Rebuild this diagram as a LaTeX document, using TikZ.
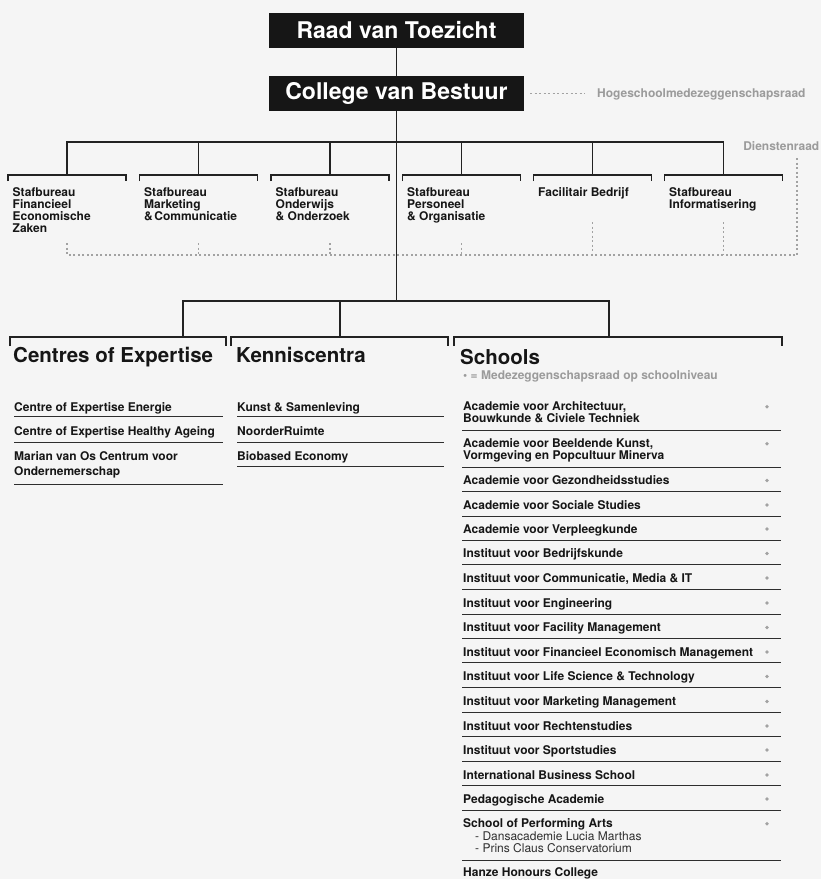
\documentclass[tikz,border=0pt]{standalone}
\usepackage{fontspec}
\setmainfont{TeX Gyre Heros}
\usetikzlibrary{calc}
\definecolor{bg}{HTML}{F5F5F5}
\definecolor{boxblack}{HTML}{161616}
\definecolor{txt}{HTML}{161616}
\definecolor{greytxt}{HTML}{9B9B9B}
\definecolor{dotgrey}{HTML}{A2A2A2}
\definecolor{treec}{HTML}{222222}
\definecolor{linec}{HTML}{2E2E2E}
\begin{document}
\begin{tikzpicture}[x=1pt,y=-1pt,
  topbox/.style={fill=boxblack, text=white, font=\fontsize{23}{27}\selectfont\bfseries, minimum width=255pt, minimum height=35pt, inner sep=0pt},
  tree/.style={draw=treec, line width=1.2pt},
  bracket/.style={draw=treec, line width=1.1pt},
  dotc/.style={draw=dotgrey, line width=1.1pt, dash pattern=on 2pt off 2.5pt},
  stafftext/.style={font=\fontsize{12}{12.3}\selectfont\bfseries, align=left, anchor=base west, inner sep=0pt, text=txt},
  greylabel/.style={font=\fontsize{12}{14}\selectfont\bfseries, inner sep=0pt, text=greytxt},
  header/.style={font=\fontsize{20.5}{24}\selectfont\bfseries, anchor=base west, inner sep=0pt, text=txt},
  item/.style={font=\fontsize{12}{12}\selectfont\bfseries, anchor=base west, inner sep=0pt, text=txt, align=left},
  subitem/.style={font=\fontsize{12}{12}\selectfont, anchor=base west, inner sep=0pt, text=linec, align=left},
  rowline/.style={draw=linec, line width=1pt},
  sdot/.style={circle, fill=dotgrey, inner sep=0pt, minimum size=3.6pt}
]
\useasboundingbox (0,0) rectangle (821,879);
\fill[bg] (0,0) rectangle (821,879);

% top boxes
\node[topbox] (rvt) at (396.5,30.5) {Raad van Toezicht};
\node[topbox] (cvb) at (396.5,93.5) {College van Bestuur};
\draw[tree] (rvt) -- (cvb);
\node[greylabel, anchor=base west] (hmr) at (597,97.5) {Hogeschoolmedezeggenschapsraad};
\draw[dotc] ($(cvb.east)+(6,0)$) -- ($(hmr.west |- cvb.east)+(-12,0)$);

% staff level
\coordinate (bus1) at (396.5,142);
\coordinate (bus2) at (396.5,301);
\foreach \i/\cx in {1/67,2/198.5,3/330,4/461.5,5/592.5,6/723.5}{
  \coordinate (sb\i) at (\cx,175);
}
\draw[tree] (cvb.south) -- (bus2);
\draw[tree] (sb1) -- (sb1 |- bus1) -- (sb6 |- bus1) -- (sb6);
\foreach \i in {2,3,4,5}{ \draw[tree] (sb\i) -- (sb\i |- bus1); }
\foreach \i in {1,...,6}{
  \draw[bracket] ($(sb\i)+(-59,6)$) -- ($(sb\i)+(-59,0)$) -- ($(sb\i)+(59,0)$) -- ($(sb\i)+(59,6)$);
}
% multi-line nodes: base anchor = last line baseline (first baseline 196, pitch 12.3)
\node[stafftext] (st1) at (12.5,232.9) {Stafbureau\\Financieel\\Economische\\Zaken};
\node[stafftext] (st2) at (144,220.6) {Stafbureau\\Marketing\\\&\hspace{1.5pt}Communicatie};
\node[stafftext] (st3) at (275.5,220.6) {Stafbureau\\Onderwijs\\\& Onderzoek};
\node[stafftext] (st4) at (407,220.6) {Stafbureau\\Personeel\\\& Organisatie};
\node[stafftext] (st5) at (538,196) {Facilitair Bedrijf};
\node[stafftext] (st6) at (669,208.3) {Stafbureau\\Informatisering};

% Dienstenraad dotted network
\node[greylabel, anchor=base east] (dr) at (819.5,150) {Dienstenraad};
\coordinate (drtop) at (797,158);
\coordinate (dbus) at (67,255);
\coordinate (dlow) at (0,243);
\coordinate (dhigh) at (0,222);
\draw[dotc] (drtop) |- (dbus);
\foreach \i in {1,2,3,4}{ \draw[dotc] (sb\i |- dlow) -- (sb\i |- dbus); }
\foreach \i in {5,6}{ \draw[dotc] (sb\i |- dhigh) -- (sb\i |- dbus); }

% second level
\coordinate (k1) at (183,337);
\coordinate (k2) at (340,337);
\coordinate (k3) at (609,337);
\draw[tree] (k1) -- (k1 |- bus2) -- (k3 |- bus2) -- (k3);
\draw[tree] (k2) -- (k2 |- bus2);
\draw[bracket] (10,346) -- (10,337) -- (226,337) -- (226,346);
\draw[bracket] (231,346) -- (231,337) -- (448,337) -- (448,346);
\draw[bracket] (454,346) -- (454,337) -- (782,337) -- (782,346);

\node[header] (coe) at (13,362.5) {Centres of Expertise};
\node[header] (kc) at (236,362.5) {Kenniscentra};
\node[header] (sch) at (460,364) {Schools};
\node[greylabel, anchor=base west] (legend) at (463,379) {\textbullet{} = Medezeggenschapsraad op schoolniveau};

% Centres of Expertise
\node[item] (c1) at (14,411) {Centre of Expertise Energie};
\draw[rowline] (14,416.7) -- (223,416.7);
\node[item] (c2) at (14,435) {Centre of Expertise Healthy Ageing};
\draw[rowline] (14,442.3) -- (223,442.3);
\node[item, font=\fontsize{12}{15}\selectfont\bfseries] (c3) at (14,475) {Marian van Os Centrum voor\\Ondernemerschap};
\draw[rowline] (14,484) -- (223,484);

% Kenniscentra
\node[item] (k1t) at (237,411) {Kunst \& Samenleving};
\draw[rowline] (237,416.7) -- (444,416.7);
\node[item] (k2t) at (237,435) {NoorderRuimte};
\draw[rowline] (237,442.3) -- (444,442.3);
\node[item] (k3t) at (237,460) {Biobased Economy};
\draw[rowline] (237,466) -- (444,466);

% Schools
\node[item] (s1) at (463,422.7) {Academie voor Architectuur,\\Bouwkunde \& Civiele Techniek};
\node[item] (s2) at (463,459.7) {Academie voor Beeldende Kunst,\\Vormgeving en Popcultuur Minerva};
\node[item] (s3) at (463,484.5) {Academie voor Gezondheidsstudies};
\node[item] (s4) at (463,509) {Academie voor Sociale Studies};
\node[item] (s5) at (463,533) {Academie voor Verpleegkunde};
\node[item] (s6) at (463,557.5) {Instituut voor Bedrijfskunde};
\node[item] (s7) at (463,582) {Instituut voor Communicatie, Media \& IT};
\node[item] (s8) at (463,607) {Instituut voor Engineering};
\node[item] (s9) at (463,631.5) {Instituut voor Facility Management};
\node[item] (s10) at (463,656) {Instituut voor Financieel Economisch Management};
\node[item] (s11) at (463,680.5) {Instituut voor Life Science \& Technology};
\node[item] (s12) at (463,705.5) {Instituut voor Marketing Management};
\node[item] (s13) at (463,730) {Instituut voor Rechtenstudies};
\node[item] (s14) at (463,754) {Instituut voor Sportstudies};
\node[item] (s15) at (463,779) {International Business School};
\node[item] (s16) at (463,803) {Pedagogische Academie};
\node[item] (s17) at (463,827.7) {School of Performing Arts};
\node[subitem] (s17a) at (475,852.7) {- Dansacademie Lucia Marthas\\- Prins Claus Conservatorium};
\node[item] (s18) at (463,876.7) {Hanze Honours College};

\foreach \y in {430,467.3,491.7,516,540,564.3,589,614,638.3,662.7,687.3,712.3,736.7,761,785.7,810,860}{
  \draw[rowline] (462,\y) -- (781,\y);
}
\foreach \y in {410.7,447.7,484.5,509,533,557.5,582,607,631.5,656,680.5,705.5,730,754,779,803,827.7}{
  \node[sdot] at (767,\y-4) {};
}
\end{tikzpicture}
\end{document}
